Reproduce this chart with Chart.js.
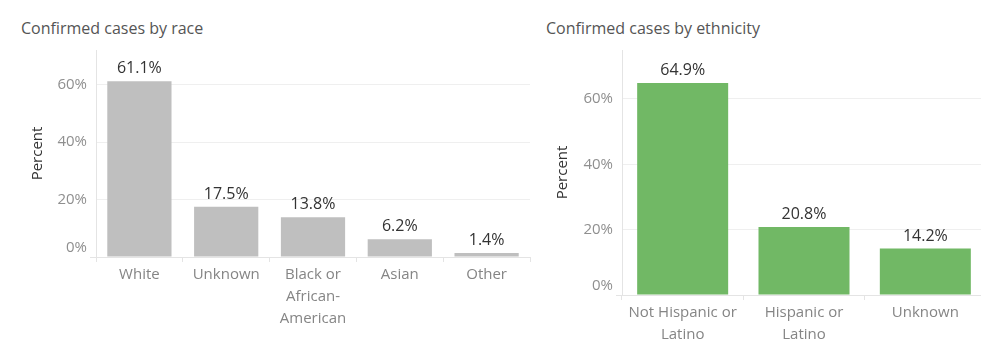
<!DOCTYPE html>
<html>
<head>
<meta charset="utf-8">
<script src="https://cdn.jsdelivr.net/npm/chart.js@4.4.0/dist/chart.umd.min.js"></script>
<style>
  html, body { margin: 0; padding: 0; background: #fff; overflow: hidden; }
  body { width: 981px; height: 352px; position: relative; }
  .title { position: absolute; font-family: "Open Sans", sans-serif; font-size: 16px; color: #555; white-space: nowrap; line-height: 20px; }
  .box { position: absolute; top: 0; height: 352px; }
</style>
</head>
<body>
<div class="title" style="left:21px; top:18px;">Confirmed cases by race</div>
<div class="title" style="left:546px; top:18px;">Confirmed cases by ethnicity</div>
<div class="box" style="left:0px; width:535px;"><canvas id="race"></canvas></div>
<div class="box" style="left:525px; width:462px;"><canvas id="eth"></canvas></div>
<script>
// ---- data ----
const raceCategories = ['White', 'Unknown', ['Black or', 'African-', 'American'], 'Asian', 'Other'];
const racePercent = [61.1, 17.5, 13.8, 6.2, 1.4];
const ethnicityCategories = [['Not Hispanic or', 'Latino'], ['Hispanic or', 'Latino'], 'Unknown'];
const ethnicityPercent = [64.9, 20.8, 14.2];
const yAxisTitle = 'Percent';
const tickStep = 20;

const FONT = '"Open Sans", sans-serif';
const TICK_GRAY = '#8f8f8f';
const DARK = '#333';
const AXIS = '#e4e4e4';

const valueLabels = {
  id: 'valueLabels',
  afterDatasetsDraw(chart) {
    const ctx = chart.ctx;
    ctx.save();
    ctx.font = '16px ' + FONT;
    ctx.fillStyle = DARK;
    ctx.textAlign = 'center';
    ctx.textBaseline = 'alphabetic';
    chart.getDatasetMeta(0).data.forEach((bar, i) => {
      const v = chart.data.datasets[0].data[i];
      ctx.fillText(v.toFixed(1) + '%', bar.x, bar.y - 8);
    });
    ctx.restore();
  }
};

const zeroLabel = {
  id: 'zeroLabel',
  afterDraw(chart) {
    const y = chart.scales.y;
    const ctx = chart.ctx;
    ctx.save();
    ctx.font = '15px ' + FONT;
    ctx.fillStyle = TICK_GRAY;
    ctx.textAlign = 'right';
    ctx.textBaseline = 'middle';
    ctx.fillText('0%', y.right - 9, y.getPixelForValue(0) - 9);
    // axis baseline stub extending left of the value axis
    const by = Math.round(chart.chartArea.bottom) + 0.5;
    ctx.strokeStyle = AXIS;
    ctx.lineWidth = 1;
    ctx.beginPath();
    ctx.moveTo(chart.chartArea.left - 6, by);
    ctx.lineTo(chart.chartArea.left, by);
    ctx.stroke();
    ctx.restore();
  }
};

function makeChart(id, cats, vals, color, opts) {
  return new Chart(document.getElementById(id), {
    type: 'bar',
    data: {
      labels: cats,
      datasets: [{ data: vals, backgroundColor: color, borderWidth: 0,
                   barPercentage: opts.barPct, categoryPercentage: 1 }]
    },
    options: {
      responsive: true,
      maintainAspectRatio: false,
      animation: false,
      layout: { padding: { left: 0, right: opts.padRight, top: 50, bottom: 0 } },
      plugins: { legend: { display: false }, tooltip: { enabled: false }, title: { display: false } },
      scales: {
        x: {
          offset: true,
          grid: { display: true, drawOnChartArea: false, drawTicks: true, tickLength: 5, color: AXIS },
          border: { display: true, color: AXIS },
          ticks: { color: '#858585', font: { family: FONT, size: 15, lineHeight: 22 / 15 }, padding: 2,
                   maxRotation: 0, autoSkip: false },
          afterFit(scale) { scale.height = opts.xHeight; }
        },
        y: {
          min: 0, max: opts.max,
          grid: { color: '#efefef', drawTicks: false },
          border: { display: true, color: AXIS },
          ticks: { stepSize: tickStep, includeBounds: false, padding: 9,
                   color: (c) => c.tick && c.tick.value === 0 ? 'rgba(0,0,0,0)' : TICK_GRAY,
                   font: { family: FONT, size: 15 },
                   callback: (v) => v + '%' },
          title: { display: true, text: yAxisTitle, color: DARK, font: { family: FONT, size: 15 },
                   padding: { top: 29, bottom: 0 } },
          afterFit(scale) { scale.width = opts.yWidth; }
        }
      }
    },
    plugins: [valueLabels, zeroLabel]
  });
}

makeChart('race', raceCategories, racePercent, '#bfbfbf',
          { barPct: 0.74, padRight: 5, max: 72, xHeight: 95, yWidth: 96 });
makeChart('eth', ethnicityCategories, ethnicityPercent, '#71b865',
          { barPct: 0.75, padRight: 1, max: 75, xHeight: 57, yWidth: 97 });
</script>
</body>
</html>
